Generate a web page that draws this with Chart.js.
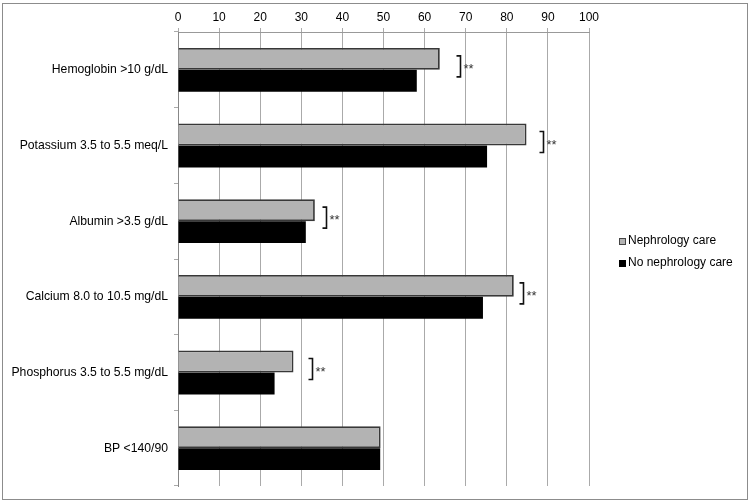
<!DOCTYPE html>
<html><head><meta charset="utf-8">
<script src="https://cdn.jsdelivr.net/npm/chart.js@4/dist/chart.umd.min.js"></script>
<style>html,body{margin:0;padding:0;background:#fff}#wrap{position:relative;width:750px;height:503px}</style>
</head><body><div id="wrap"><canvas id="c" width="750" height="503"></canvas></div>
<script>
const categories = ['Hemoglobin >10 g/dL','Potassium 3.5 to 5.5 meq/L','Albumin >3.5 g/dL','Calcium 8.0 to 10.5 mg/dL','Phosphorus 3.5 to 5.5 mg/dL','BP <140/90'];
const seriesNames = ['Nephrology care','No nephrology care'];
const nephrologyCare = [63.7, 84.8, 33.3, 81.7, 28.1, 49.3];
const noNephrologyCare = [58.1, 75.2, 31.1, 74.2, 23.5, 49.2];
const xTicks = [0,10,20,30,40,50,60,70,80,90,100];
const significance = ['**','**','**','**','**',''];
const bracketAt = [68.5, 88.9, 35.9, 84.0, 32.6, null];

const FONT = '"Liberation Sans", Arial, sans-serif';
const seriesColors = ['#b3b3b3', '#000000'];

const framePlugin = {
  id: 'frame',
  afterDraw(chart) {
    const ctx = chart.ctx;
    ctx.save();
    ctx.strokeStyle = '#8c8c8c';
    ctx.lineWidth = 1;
    ctx.strokeRect(2.5, 3.5, 745, 496);
    ctx.restore();
  }
};

const bracketPlugin = {
  id: 'brackets',
  afterDatasetsDraw(chart) {
    const ctx = chart.ctx;
    const xs = chart.scales.x, ys = chart.scales.y;
    ctx.save();
    categories.forEach((c, i) => {
      if (bracketAt[i] == null || !significance[i]) return;
      const cy = ys.getPixelForValue(i);
      const x = Math.round(xs.getPixelForValue(bracketAt[i])) + 0.5;
      const top = cy - 14, bot = cy + 7;
      ctx.strokeStyle = '#111';
      ctx.lineWidth = 1.6;
      ctx.beginPath();
      ctx.moveTo(x - 4, top);
      ctx.lineTo(x, top);
      ctx.lineTo(x, bot);
      ctx.lineTo(x - 4, bot);
      ctx.stroke();
      ctx.fillStyle = '#333';
      ctx.font = '13px ' + FONT;
      ctx.textBaseline = 'middle';
      ctx.textAlign = 'left';
      ctx.fillText(significance[i], x + 3, (top + bot) / 2 + 3);
    });
    ctx.restore();
  }
};

const legendPlugin = {
  id: 'customLegend',
  afterDraw(chart) {
    const ctx = chart.ctx;
    ctx.save();
    ctx.font = '12px ' + FONT;
    ctx.textBaseline = 'middle';
    ctx.textAlign = 'left';
    const ys = [241, 263];
    seriesNames.forEach((n, i) => {
      const y = ys[i];
      ctx.fillStyle = seriesColors[i];
      ctx.fillRect(619, y - 3, 7, 7);
      if (i === 0) {
        ctx.strokeStyle = '#444';
        ctx.lineWidth = 1;
        ctx.strokeRect(619.5, y - 2.5, 6, 6);
      }
      ctx.fillStyle = '#000';
      ctx.fillText(n, 628, y);
    });
    ctx.restore();
  }
};

new Chart(document.getElementById('c'), {
  type: 'bar',
  data: {
    labels: categories,
    datasets: [
      { label: seriesNames[0], data: nephrologyCare, backgroundColor: seriesColors[0], borderColor: '#383838', borderWidth: 1.8, barPercentage: 1, categoryPercentage: 0.58 },
      { label: seriesNames[1], data: noNephrologyCare, backgroundColor: seriesColors[1], borderColor: '#000', borderWidth: 0, barPercentage: 1, categoryPercentage: 0.58 }
    ]
  },
  options: {
    indexAxis: 'y',
    responsive: false,
    devicePixelRatio: 1,
    animation: false,
    layout: { padding: { left: 0, right: 161, top: 0, bottom: 17 } },
    plugins: { legend: { display: false }, tooltip: { enabled: false } },
    scales: {
      x: {
        position: 'top',
        min: 0, max: 100,
        afterBuildTicks(s) { s.ticks = xTicks.map(v => ({ value: v })); },
        ticks: { stepSize: 10, padding: 3, color: '#000', font: { size: 12, family: FONT } },
        grid: { color: '#aaaaaa', lineWidth: 1, tickLength: 4 },
        border: { color: '#999' },
        afterFit(s) { s.height = 32; }
      },
      y: {
        grid: { drawOnChartArea: false, drawTicks: true, tickLength: 4, color: '#aaa', offset: true },
        border: { color: '#888' },
        ticks: { padding: 6, color: '#000', font: { size: 12.2, family: FONT } },
        afterFit(s) { s.width = 178; }
      }
    }
  },
  plugins: [framePlugin, bracketPlugin, legendPlugin]
});
</script>
</body></html>
